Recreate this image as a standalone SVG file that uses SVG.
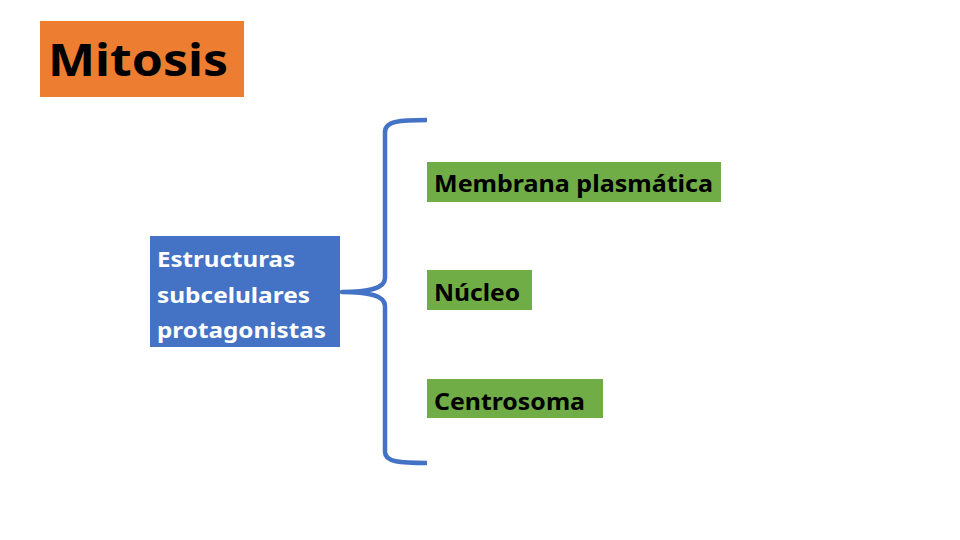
<svg xmlns="http://www.w3.org/2000/svg" width="960" height="540" viewBox="0 0 960 540">
<style>
.t{font-family:"Noto Sans","Open Sans","DejaVu Sans",sans-serif;font-weight:bold;}
.g{fill:#70AD47;}
.gt{font-size:24px;fill:#000;}
.wt{font-size:22px;fill:#fff;}
</style>
<rect width="960" height="540" fill="#fff"/>
<g id="title">
<rect x="40" y="21" width="204" height="76" fill="#ED7D31"/>
<text class="t" x="48" y="76" font-size="44" fill="#000" textLength="180" lengthAdjust="spacingAndGlyphs">Mitosis</text>
</g>
<g id="connectors">
<path d="M427,120 C400,120 385,121 385,132 L385,278 C385,288 370,292 342,292 C370,292 385,296 385,306 L385,452 C385,462 400,463 427,463" fill="none" stroke="#4472C4" stroke-width="4.5" stroke-linejoin="round"/>
</g>
<g id="estructuras">
<rect x="150" y="236" width="190" height="111" fill="#4472C4"/>
<text class="t wt" x="157" y="267" textLength="138" lengthAdjust="spacingAndGlyphs">Estructuras</text>
<text class="t wt" x="157" y="303" textLength="153" lengthAdjust="spacingAndGlyphs">subcelulares</text>
<text class="t wt" x="157" y="338" textLength="169" lengthAdjust="spacingAndGlyphs">protagonistas</text>
</g>
<g id="membrana">
<rect class="g" x="427" y="162" width="294" height="40"/>
<text class="t gt" x="434" y="192" textLength="279" lengthAdjust="spacingAndGlyphs">Membrana plasmática</text>
</g>
<g id="nucleo">
<rect class="g" x="427" y="270" width="105" height="40"/>
<text class="t gt" x="434" y="301" textLength="86" lengthAdjust="spacingAndGlyphs">Núcleo</text>
</g>
<g id="centrosoma">
<rect class="g" x="427" y="379" width="176" height="39"/>
<text class="t gt" x="434" y="410" textLength="151" lengthAdjust="spacingAndGlyphs">Centrosoma</text>
</g>
</svg>
